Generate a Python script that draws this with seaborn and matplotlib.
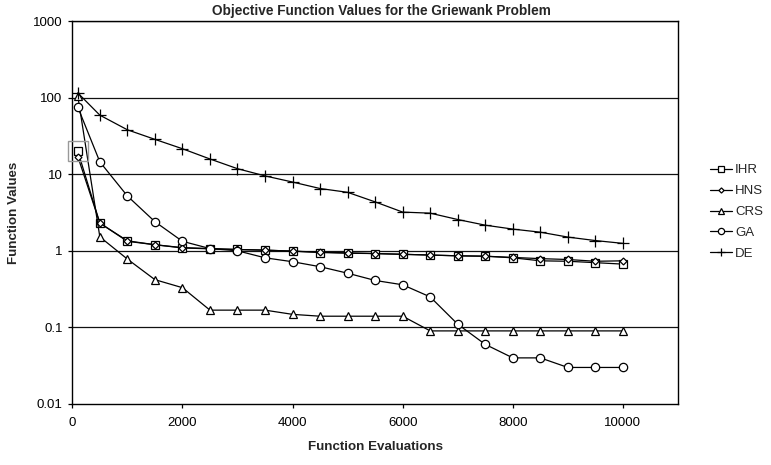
import numpy as np
import pandas as pd
import matplotlib
matplotlib.use("Agg")
import matplotlib.pyplot as plt
import seaborn as sns

evals = [100, 500, 1000, 1500, 2000, 2500, 3000, 3500, 4000, 4500, 5000,
         5500, 6000, 6500, 7000, 7500, 8000, 8500, 9000, 9500, 10000]
ihr = [20, 2.3, 1.33, 1.2, 1.09, 1.06, 1.04, 1.02, 0.99, 0.95, 0.93,
       0.92, 0.90, 0.88, 0.86, 0.85, 0.81, 0.74, 0.73, 0.70, 0.67]
hns = [17, 2.3, 1.35, 1.2, 1.1, 1.07, 1.04, 1.02, 0.99, 0.96, 0.94,
       0.92, 0.90, 0.88, 0.86, 0.85, 0.82, 0.79, 0.77, 0.73, 0.74]
crs = [105, 1.52, 0.78, 0.42, 0.33, 0.168, 0.168, 0.168, 0.148, 0.14, 0.14,
       0.14, 0.14, 0.09, 0.09, 0.09, 0.09, 0.09, 0.09, 0.09, 0.09]
ga = [75, 14.5, 5.2, 2.4, 1.33, 1.07, 1.0, 0.81, 0.72, 0.62, 0.51,
      0.41, 0.36, 0.25, 0.11, 0.06, 0.04, 0.04, 0.03, 0.03, 0.03]
de = [115, 59, 38, 28.5, 21.5, 15.8, 11.8, 9.5, 7.9, 6.5, 5.8,
      4.35, 3.2, 3.1, 2.56, 2.16, 1.92, 1.75, 1.51, 1.36, 1.25]

series = {"IHR": ihr, "HNS": hns, "CRS": crs, "GA": ga, "DE": de}
markers = {"IHR": "s", "HNS": "D", "CRS": "^", "GA": "o", "DE": "+"}
msizes = {"IHR": 5.5, "HNS": 3.5, "CRS": 6, "GA": 6, "DE": 8}

x_ticks = [0, 2000, 4000, 6000, 8000, 10000]
y_ticks = [0.01, 0.1, 1, 10, 100, 1000]
y_ticklabels = ["0.01", "0.1", "1", "10", "100", "1000"]

sns.set_theme(style="white")
plt.rcParams['font.family'] = ['Liberation Sans', 'DejaVu Sans']

fig = plt.figure(figsize=(7.71, 4.65), dpi=100)
ax = fig.add_axes([72.3 / 771, 1 - 404 / 465, (678 - 72.3) / 771, (404 - 21) / 465])

ax.set_yscale("log")
ax.set_ylim(0.01, 1000)
ax.set_xlim(0, 11000)

for yv in y_ticks[1:]:
    ax.axhline(yv, color="#111111", lw=0.9, zorder=1)

for name, vals in series.items():
    df = pd.DataFrame({"evals": evals, "val": vals})
    sns.lineplot(data=df, x="evals", y="val", ax=ax, color="black", lw=0.9,
                 marker=markers[name], markersize=msizes[name],
                 markerfacecolor="white", markeredgecolor="black",
                 markeredgewidth=0.9, label=name, zorder=3)

# highlight box around first IHR point
ax.plot(evals[:1], ihr[:1], marker="s", markersize=14.5, markerfacecolor="none",
        markeredgecolor="#999999", markeredgewidth=1.0, linestyle="none",
        zorder=4, clip_on=False)

ax.set_xticks(x_ticks)
ax.set_xticklabels([str(t) for t in x_ticks], fontsize=9.5)
ax.set_yticks(y_ticks)
ax.set_yticklabels(y_ticklabels, fontsize=9.5)
ax.yaxis.set_minor_locator(matplotlib.ticker.NullLocator())
ax.tick_params(axis="both", which="major", direction="out", length=3,
               width=0.9, color="black", labelcolor="black",
               bottom=True, left=True)
ax.tick_params(axis="x", pad=6)
ax.tick_params(axis="y", pad=4)

for sp in ax.spines.values():
    sp.set_color("black")
    sp.set_linewidth(1.0)

ax.set_title("Objective Function Values for the Griewank Problem",
             fontsize=9.8, fontweight="bold", pad=4, x=0.51)
ax.set_xlabel("Function Evaluations", fontsize=9.6, fontweight="bold", labelpad=9)
ax.set_ylabel("Function Values", fontsize=9.6, fontweight="bold", labelpad=9)

leg = ax.legend(loc="center left", bbox_to_anchor=(710 / 771, 1 - 212 / 465),
                bbox_transform=fig.transFigure, frameon=False, fontsize=9.5,
                handlelength=1.7, handletextpad=0.2, labelspacing=0.65,
                borderpad=0, borderaxespad=0, markerscale=0.75)

fig.savefig("out.png", dpi=100)
